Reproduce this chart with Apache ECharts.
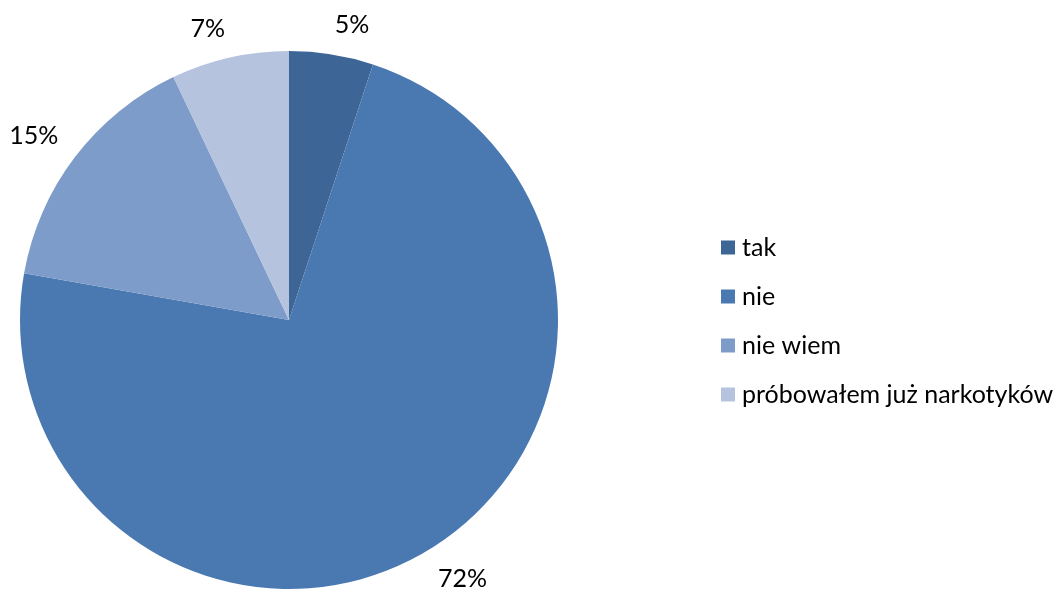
<!DOCTYPE html>
<html><head><meta charset="utf-8">
<script src="https://cdn.jsdelivr.net/npm/echarts@6/dist/echarts.min.js"></script>
<style>html,body{margin:0;padding:0;background:#fff}#c{width:1057px;height:595px}</style>
</head><body><div id="c"></div>
<script>
const categories = ['tak', 'nie', 'nie wiem', 'próbowałem już narkotyków'];
const values = [5, 72, 15, 7];
const colors = ['#3D6697', '#4A79B2', '#7E9CC9', '#B5C3DF'];

const LABEL_FONT = 25;
const LABEL_GAP = 21;
// Excel-style "outside end": the label corner nearest the pie sits on the mid-angle ray
function placeLabel(params) {
  const pts = params.labelLinePoints;
  if (!pts || pts.length < 2) return {};
  const dx = pts[1][0] - pts[0][0], dy = pts[1][1] - pts[0][1];
  const len = Math.sqrt(dx * dx + dy * dy) || 1;
  const ux = dx / len, uy = dy / len;
  const px = pts[0][0] + ux * LABEL_GAP, py = pts[0][1] + uy * LABEL_GAP;
  const w = params.labelRect.width / 2, h = LABEL_FONT * 0.37;
  return {
    x: px + (ux >= 0 ? w : -w),
    y: py + (uy >= 0 ? h : -h) + 1,
    align: 'center',
    verticalAlign: 'middle'
  };
}

const chart = echarts.init(document.getElementById('c'));
chart.setOption({
  animation: false,
  color: colors,
  textStyle: { fontFamily: 'Lato' },
  legend: {
    orient: 'vertical',
    left: 716,
    top: 230,
    itemWidth: 14,
    itemHeight: 14,
    itemGap: 24,
    icon: 'rect',
    textStyle: { fontSize: 25, color: '#000', fontFamily: 'Lato', padding: [0, 0, 0, 2] },
    data: categories
  },
  series: [{
    type: 'pie',
    center: [289, 320],
    radius: 269,
    startAngle: 90,
    clockwise: true,
    avoidLabelOverlap: false,
    data: categories.map((n, i) => ({ name: n, value: values[i] })),
    label: {
      show: true,
      position: 'outside',
      formatter: '{c}%',
      fontSize: LABEL_FONT,
      color: '#000',
      fontFamily: 'Lato'
    },
    labelLine: { show: false, length: 20, length2: 0 },
    labelLayout: placeLabel,
    itemStyle: { borderWidth: 0 },
    emphasis: { disabled: true }
  }]
});
</script></body></html>
